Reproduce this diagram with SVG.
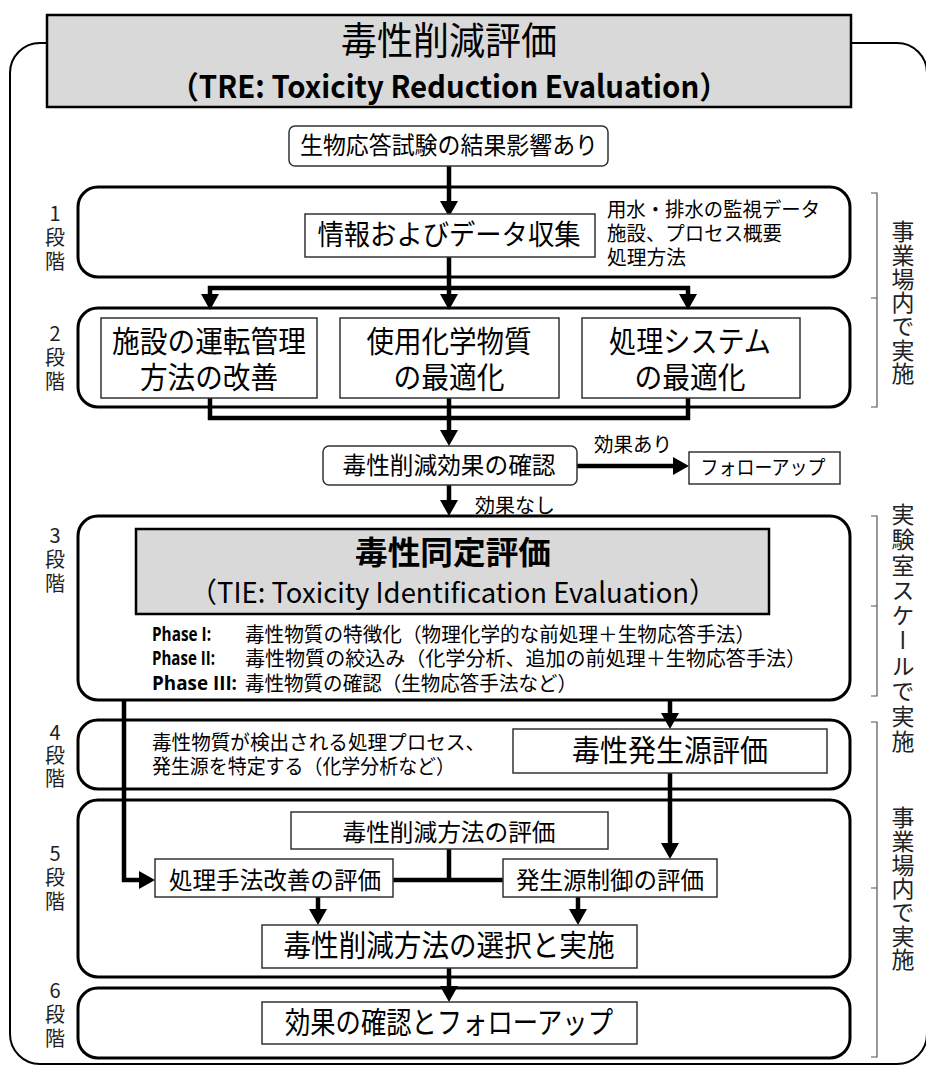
<svg xmlns="http://www.w3.org/2000/svg" width="926" height="1066" viewBox="0 0 926 1066">
<style>
text{font-family:"Noto Sans CJK JP","Noto Sans",sans-serif;fill:#000}
.stage{fill:#fff;stroke:#000;stroke-width:3}
.box{fill:#fff;stroke:#333;stroke-width:1.5}
.gray{fill:#d9d9d9;stroke:#000;stroke-width:2.5}
.conn{fill:none;stroke:#000;stroke-width:4.5}
.brace{fill:none;stroke:#555;stroke-width:1.2}
.lbl{font-size:20px;writing-mode:vertical-rl;text-orientation:upright;fill:#222}
.vt{font-size:23px;writing-mode:vertical-rl;fill:#222}
.c{text-anchor:middle}
.ph{font-family:"Open Sans","Noto Sans",sans-serif;font-size:19px;font-weight:bold}
</style>
<defs>
<marker id="ah" markerUnits="userSpaceOnUse" markerWidth="18" markerHeight="20" refX="10" refY="9" orient="auto-start-reverse" viewBox="0 0 18 20">
<path d="M0,0 L16,9 L0,18 z" fill="#000"/>
</marker>
</defs>

<g id="frame">
<path d="M47,43 H40 A30,30 0 0 0 10,73 V1034 A30,30 0 0 0 40,1064 H897 A30,30 0 0 0 927,1034 V73 A30,30 0 0 0 897,43 H851" fill="none" stroke="#000" stroke-width="2"/>
</g>

<g id="title">
<rect class="gray" x="47" y="15" width="804" height="92"/>
<text class="c" x="449" y="54" font-size="38" textLength="216" lengthAdjust="spacingAndGlyphs">毒性削減評価</text>
<text class="c" x="449" y="98" font-size="31" font-weight="bold" textLength="559" lengthAdjust="spacingAndGlyphs">（TRE: Toxicity Reduction Evaluation）</text>
</g>

<g id="stages">
<rect class="stage" x="78" y="187" width="772" height="90" rx="20"/>
<rect class="stage" x="78" y="308" width="772" height="99" rx="20"/>
<rect class="stage" x="78" y="516" width="772" height="184" rx="20"/>
<rect class="stage" x="78" y="720" width="772" height="69" rx="20"/>
<rect class="stage" x="78" y="800" width="772" height="177" rx="20"/>
<rect class="stage" x="78" y="988" width="772" height="70" rx="20"/>
</g>

<g id="stage-labels">
<text class="lbl" x="55" y="203" textLength="68" lengthAdjust="spacing">1段階</text>
<text class="lbl" x="55" y="323" textLength="68" lengthAdjust="spacing">2段階</text>
<text class="lbl" x="55" y="525" textLength="68" lengthAdjust="spacing">3段階</text>
<text class="lbl" x="55" y="722" textLength="66" lengthAdjust="spacing">4段階</text>
<text class="lbl" x="55" y="843" textLength="68" lengthAdjust="spacing">5段階</text>
<text class="lbl" x="55" y="980" textLength="68" lengthAdjust="spacing">6段階</text>
</g>

<g id="connectors">
<path class="conn" d="M449,166 V211" marker-end="url(#ah)"/>
<path class="conn" d="M449,257 V304" marker-end="url(#ah)"/>
<path class="conn" d="M210,304 V288 H688 V304" marker-start="url(#ah)" marker-end="url(#ah)"/>
<path class="conn" d="M210,398 V418 H688 V398"/>
<path class="conn" d="M449,398 V440" marker-end="url(#ah)"/>
<path class="conn" d="M577,466 H683" marker-end="url(#ah)"/>
<path class="conn" d="M449,485 V510" marker-end="url(#ah)"/>
<path class="conn" d="M124,700 V880 H149" marker-end="url(#ah)"/>
<path class="conn" d="M670,700 V723" marker-end="url(#ah)"/>
<path class="conn" d="M670,773 V853" marker-end="url(#ah)"/>
<path class="conn" d="M449,849 V880 M393,880 H503"/>
<path class="conn" d="M318,897 V919" marker-end="url(#ah)"/>
<path class="conn" d="M578,897 V919" marker-end="url(#ah)"/>
<path class="conn" d="M449,968 V996" marker-end="url(#ah)"/>
</g>

<g id="n-start">
<rect class="box" x="289" y="126" width="319" height="40" rx="6"/>
<text class="c" x="449" y="154" font-size="24" textLength="298" lengthAdjust="spacingAndGlyphs">生物応答試験の結果影響あり</text>
</g>

<g id="n-info">
<rect class="box" x="305" y="214" width="290" height="43"/>
<text class="c" x="449" y="245" font-size="28" textLength="263" lengthAdjust="spacingAndGlyphs">情報およびデータ収集</text>
<text font-size="20"><tspan x="607" y="217" textLength="213" lengthAdjust="spacingAndGlyphs">用水・排水の監視データ</tspan><tspan x="607" y="241" textLength="175" lengthAdjust="spacingAndGlyphs">施設、プロセス概要</tspan><tspan x="607" y="265" textLength="79" lengthAdjust="spacingAndGlyphs">処理方法</tspan></text>
</g>

<g id="n-facility">
<rect class="box" x="101" y="318" width="216" height="80"/>
<text class="c" font-size="30"><tspan x="209" y="352" textLength="194" lengthAdjust="spacingAndGlyphs">施設の運転管理</tspan><tspan x="209" y="388" textLength="138" lengthAdjust="spacingAndGlyphs">方法の改善</tspan></text>
</g>
<g id="n-chem">
<rect class="box" x="340" y="318" width="219" height="80"/>
<text class="c" font-size="30"><tspan x="449" y="352" textLength="165" lengthAdjust="spacingAndGlyphs">使用化学物質</tspan><tspan x="449" y="388" textLength="111" lengthAdjust="spacingAndGlyphs">の最適化</tspan></text>
</g>
<g id="n-system">
<rect class="box" x="582" y="318" width="218" height="80"/>
<text class="c" font-size="30"><tspan x="690" y="352" textLength="162" lengthAdjust="spacingAndGlyphs">処理システム</tspan><tspan x="690" y="388" textLength="111" lengthAdjust="spacingAndGlyphs">の最適化</tspan></text>
</g>

<g id="n-confirm">
<rect class="box" x="323" y="446" width="254" height="39" rx="6"/>
<text class="c" x="449" y="474" font-size="24" textLength="213" lengthAdjust="spacingAndGlyphs">毒性削減効果の確認</text>
<text x="594" y="452" font-size="20" textLength="78" lengthAdjust="spacingAndGlyphs">効果あり</text>
<text x="475" y="513" font-size="20" textLength="80" lengthAdjust="spacingAndGlyphs">効果なし</text>
</g>
<g id="n-followup1">
<rect class="box" x="689" y="452" width="151" height="32"/>
<text class="c" x="763" y="475" font-size="20" textLength="125" lengthAdjust="spacingAndGlyphs">フォローアップ</text>
</g>

<g id="n-tie">
<rect class="gray" x="136" y="529" width="633" height="85"/>
<text class="c" font-size="32"><tspan x="453" y="564" font-weight="bold" textLength="196" lengthAdjust="spacingAndGlyphs">毒性同定評価</tspan><tspan x="453" y="603" font-size="28" textLength="527" lengthAdjust="spacingAndGlyphs">（TIE: Toxicity Identification Evaluation）</tspan></text>
<text font-size="20"><tspan class="ph" x="152" y="641" textLength="59" lengthAdjust="spacingAndGlyphs">Phase I:</tspan><tspan x="245" y="642" textLength="510" lengthAdjust="spacingAndGlyphs">毒性物質の特徴化（物理化学的な前処理＋生物応答手法）</tspan><tspan class="ph" x="152" y="665" textLength="63" lengthAdjust="spacingAndGlyphs">Phase II:</tspan><tspan x="245" y="666" textLength="561" lengthAdjust="spacingAndGlyphs">毒性物質の絞込み（化学分析、追加の前処理＋生物応答手法）</tspan><tspan class="ph" x="152" y="690" textLength="85" lengthAdjust="spacingAndGlyphs">Phase III:</tspan><tspan x="245" y="691" textLength="332" lengthAdjust="spacingAndGlyphs">毒性物質の確認（生物応答手法など）</tspan></text>
</g>

<g id="n-source">
<text font-size="20"><tspan x="152" y="750" textLength="333" lengthAdjust="spacingAndGlyphs">毒性物質が検出される処理プロセス、</tspan><tspan x="152" y="774" textLength="303" lengthAdjust="spacingAndGlyphs">発生源を特定する（化学分析など）</tspan></text>
<rect class="box" x="513" y="729" width="314" height="44"/>
<text class="c" x="670" y="761" font-size="30" textLength="196" lengthAdjust="spacingAndGlyphs">毒性発生源評価</text>
</g>

<g id="n-method-eval">
<rect class="box" x="291" y="812" width="317" height="37"/>
<text class="c" x="449" y="841" font-size="24" textLength="213" lengthAdjust="spacingAndGlyphs">毒性削減方法の評価</text>
</g>
<g id="n-treat-eval">
<rect class="box" x="155" y="859" width="238" height="38"/>
<text class="c" x="275" y="889" font-size="24" textLength="212" lengthAdjust="spacingAndGlyphs">処理手法改善の評価</text>
</g>
<g id="n-src-eval">
<rect class="box" x="503" y="859" width="214" height="38"/>
<text class="c" x="610" y="889" font-size="24" textLength="188" lengthAdjust="spacingAndGlyphs">発生源制御の評価</text>
</g>
<g id="n-select">
<rect class="box" x="262" y="925" width="375" height="43"/>
<text class="c" x="449" y="956" font-size="30" textLength="331" lengthAdjust="spacingAndGlyphs">毒性削減方法の選択と実施</text>
</g>
<g id="n-final">
<rect class="box" x="262" y="1002" width="375" height="42"/>
<text class="c" x="449" y="1033" font-size="30" textLength="328" lengthAdjust="spacingAndGlyphs">効果の確認とフォローアップ</text>
</g>

<g id="braces">
<path class="brace" d="M871,193 H877 V298 H871 M877,298 V407 H871"/>
<path class="brace" d="M871,516 H877 V606 H871 M877,606 V696 H871"/>
<path class="brace" d="M871,722 H877 V888 H871 M877,888 V1057 H871"/>
<text class="vt" x="903" y="220" textLength="165" lengthAdjust="spacing">事業場内で実施</text>
<text class="vt" x="903" y="503" textLength="250" lengthAdjust="spacing">実験室スケールで実施</text>
<text class="vt" x="903" y="806" textLength="165" lengthAdjust="spacing">事業場内で実施</text>
</g>
</svg>
